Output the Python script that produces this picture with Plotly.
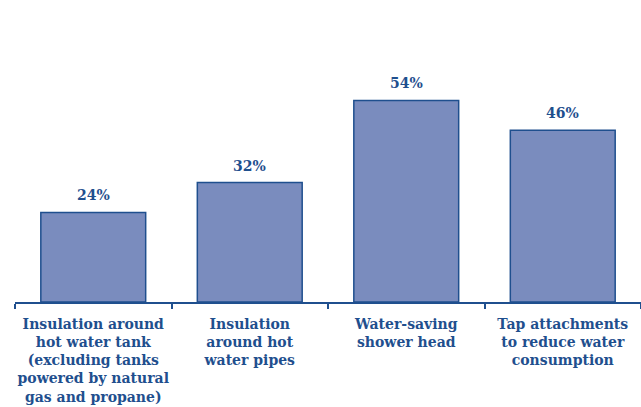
import plotly.graph_objects as go

categories = [
    "Insulation around<br>hot water tank<br>(excluding tanks<br>powered by natural<br>gas and propane)",
    "Insulation<br>around hot<br>water pipes",
    "Water-saving<br>shower head",
    "Tap attachments<br>to reduce water<br>consumption",
]
shares = [24, 32, 54, 46]
share_labels = [f"<b>{v}%</b>" for v in shares]

navy = "#1f4f8e"
fill = "#7a8cbe"
font_family = "DejaVu Serif"
cats = [f"<b>{c}</b>" for c in categories]

fig = go.Figure(go.Bar(
    x=cats,
    y=shares,
    marker=dict(color=fill, line=dict(color=navy, width=1.5)),
    width=0.67,
))

# value labels above the bars
for c, v, lab in zip(cats, shares, share_labels):
    fig.add_annotation(x=c, y=v, text=lab, showarrow=False, yanchor="bottom", yshift=7,
                       font=dict(family=font_family, size=14, color=navy))

fig.update_layout(
    width=641, height=407,
    margin=dict(l=15, r=0, t=78, b=105),
    plot_bgcolor="white", paper_bgcolor="white",
    showlegend=False,
    font=dict(family=font_family, size=14, color=navy),
)
fig.update_xaxes(
    automargin=False, tickangle=0,
    showline=True, linecolor=navy, linewidth=2,
    ticks="outside", tickson="boundaries", ticklen=5, tickcolor=navy, tickwidth=1.5,
    ticklabelstandoff=8,
    tickfont=dict(family=font_family, size=14, color=navy),
    showgrid=False,
)
fig.update_yaxes(range=[0, 60], visible=False, showgrid=False)

fig.write_html("out.html", config={"displayModeBar": False},
               post_script="document.body.style.margin='0px';")
